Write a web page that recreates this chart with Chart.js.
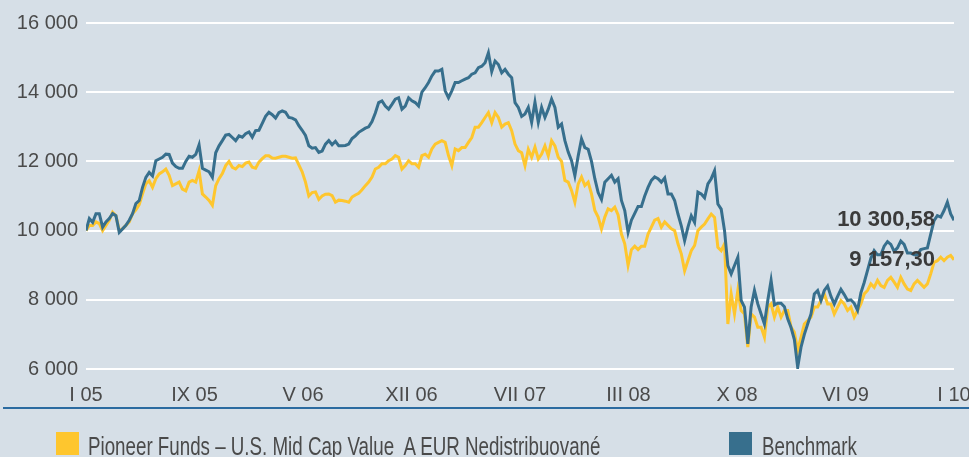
<!DOCTYPE html>
<html>
<head>
<meta charset="utf-8">
<script src="https://cdn.jsdelivr.net/npm/chart.js@4/dist/chart.umd.min.js"></script>
<style>
  html, body { margin: 0; padding: 0; background: #d6dfe7; }
  #wrap { position: relative; width: 969px; height: 457px; overflow: hidden; background: #d6dfe7;
          font-family: "Liberation Sans", Arial, sans-serif; color: #4a4a4a; }
  #chart { position: absolute; left: 0; top: 0; }
  #rule { position: absolute; left: 3px; top: 407px; width: 966px; height: 2px; background: #2b6ba0; }
  .key { position: absolute; top: 432px; width: 23px; height: 23px; }
  .lbl { position: absolute; top: 434px; font-size: 25px; line-height: 25px; white-space: pre;
         transform: scaleX(0.75); transform-origin: 0 0; }
</style>
</head>
<body>
<div id="wrap">
  <canvas id="chart" width="969" height="457"></canvas>
  <div id="rule"></div>
  <div class="key" id="key-fund" style="left:56px"></div>
  <div class="lbl" id="lbl-fund" style="left:88px"></div>
  <div class="key" id="key-bench" style="left:729px"></div>
  <div class="lbl" id="lbl-bench" style="left:762px"></div>
</div>
<script>
const fundName = 'Pioneer Funds – U.S. Mid Cap Value  A EUR Nedistribuované';
const benchName = 'Benchmark';
const fundColor = '#fec62e';
const benchColor = '#376f8d';

// x axis labels (month in roman numerals + year), evenly spaced over the weekly series
const xLabels = ['I 05', 'IX 05', 'V 06', 'XII 06', 'VII 07', 'III 08', 'X 08', 'VI 09', 'I 10'];
const yTicks = [6000, 8000, 10000, 12000, 14000, 16000];

// weekly values, I 05 .. I 10
const benchValues = [
  10000,10350,10240,10490,10490,10100,10250,10350,10490,10430,9950,10050,10150,10300,10490,10780,10870,11250,11540,11680,11580,12020,
  12070,12120,12210,12200,11950,11850,11800,11800,12000,12150,12120,12200,12480,11800,11750,11700,11540,12250,12450,12600,12760,12780,
  12690,12600,12740,12700,12800,12850,12700,12890,12900,13100,13300,13420,13350,13250,13410,13460,13420,13270,13250,13200,13030,12900,
  12750,12450,12380,12400,12260,12300,12500,12600,12480,12580,12450,12450,12460,12500,12660,12740,12840,12900,12960,13000,13150,13400,
  13700,13750,13600,13510,13650,13800,13840,13510,13600,13840,13750,13700,13600,14000,14130,14280,14470,14610,14610,14660,14040,13840,
  14040,14280,14280,14330,14380,14420,14520,14560,14710,14750,14850,15140,14600,14900,14800,14560,14660,14520,14420,13700,13560,13300,
  13370,13560,13130,13710,13130,13560,13270,13510,13800,13560,12990,13080,12600,12270,12020,11590,12160,12650,12400,12350,12000,11500,
  11100,10900,11400,11500,11600,11400,11500,10870,10580,9950,10300,10500,10700,10700,11000,11250,11450,11550,11500,11400,11520,11060,
  11060,10870,10480,10140,9710,10100,10430,10240,11110,11060,10950,11350,11500,11730,10770,10620,10000,8990,8750,8990,9230,7980,
  7790,6730,7790,8270,7880,7590,7300,7980,8560,7850,7900,7900,7800,7450,7200,6850,6050,6630,7000,7300,7590,
  8170,8270,7980,8270,8400,8100,7880,8100,8300,8150,7980,8000,7900,7700,8200,8500,8850,9200,9420,9300,9300,9550,
  9680,9600,9400,9500,9700,9600,9350,9350,9300,9300,9450,9480,9500,9900,10290,10430,10390,10580,10820,10480,10300.58
];
const fundValues = [
  10000,10150,10150,10250,10200,10000,10150,10300,10530,10430,10000,10050,10150,10250,10490,10600,10750,11060,11350,11440,11250,11500,
  11640,11700,11780,11600,11300,11350,11400,11200,11150,11400,11450,11400,11730,11060,10970,10870,10730,11300,11500,11650,11880,12000,
  11830,11780,11880,11850,11950,11980,11830,11800,11980,12080,12160,12160,12100,12090,12120,12150,12150,12120,12090,12100,11900,11700,
  11400,11000,11100,11120,10900,11000,11050,11060,11010,10820,10880,10870,10850,10820,10970,11030,11080,11180,11300,11400,11550,11780,
  11830,11930,11930,12020,12070,12170,12120,11780,11880,12020,11930,11930,11830,12170,12210,12120,12360,12500,12550,12600,12550,12170,
  11880,12360,12310,12400,12400,12550,12690,12990,12990,13120,13270,13410,13120,13410,13270,12990,13080,13120,12890,12500,12310,12250,
  11880,12350,12120,12410,12070,12210,12450,12160,12600,12450,12120,12000,11450,11400,11160,10820,11350,11550,11300,11400,11060,10580,
  10390,10050,10390,10630,10580,10680,10450,9900,9620,9000,9450,9550,9450,9550,9550,9900,10100,10300,10350,10100,10250,10150,
  10050,10000,9620,9330,8840,9130,9420,9570,10000,10100,10190,10340,10480,10380,9520,9420,9620,7300,8170,7590,8270,7690,
  7590,6630,7590,7500,7210,7210,6920,7790,7880,7500,7790,7500,7690,7690,7210,7060,6540,6920,7300,7400,7500,
  7790,7790,7980,8170,7880,7880,7590,7790,7980,7880,7690,7790,7500,7690,7880,8170,8270,8460,8360,8560,8410,8360,
  8560,8650,8510,8360,8650,8460,8310,8270,8460,8560,8460,8360,8460,8750,9080,9130,9230,9130,9230,9280,9157.30
];

const lastIndex = benchValues.length - 1;
const fontFamily = '"Liberation Sans", Arial, sans-serif';

function fmt(n, dec) {
  const parts = n.toFixed(dec).split('.');
  const whole = parts[0].replace(/\B(?=(\d{3})+(?!\d))/g, ' ');
  return parts.length > 1 ? whole + ',' + parts[1] : whole;
}

const toPoints = arr => arr.map((v, i) => ({ x: i, y: v }));

document.getElementById('key-fund').style.background = fundColor;
document.getElementById('key-bench').style.background = benchColor;
document.getElementById('lbl-fund').textContent = fundName;
document.getElementById('lbl-bench').textContent = benchName;

// final values written next to the end of each line
const endLabels = {
  id: 'endLabels',
  afterDatasetsDraw(chart) {
    const ctx = chart.ctx;
    const xs = chart.scales.x, ys = chart.scales.y;
    ctx.save();
    ctx.font = 'bold 22px ' + fontFamily;
    ctx.fillStyle = '#3a3a3a';
    ctx.textAlign = 'right';
    ctx.textBaseline = 'middle';
    [benchValues, fundValues].forEach(arr => {
      const v = arr[arr.length - 1];
      ctx.fillText(fmt(v, 2), xs.getPixelForValue(arr.length - 1) - 19, ys.getPixelForValue(v));
    });
    ctx.restore();
  }
};

new Chart(document.getElementById('chart'), {
  type: 'line',
  data: {
    datasets: [{
      label: fundName,
      data: toPoints(fundValues),
      borderColor: fundColor,
      borderWidth: 3,
      pointRadius: 0,
      fill: false,
      order: 2
    }, {
      label: benchName,
      data: toPoints(benchValues),
      borderColor: benchColor,
      borderWidth: 3,
      pointRadius: 0,
      fill: false,
      order: 1
    }]
  },
  options: {
    responsive: false,
    animation: false,
    events: [],
    layout: { padding: { top: 23, right: 15, bottom: 48, left: 0 } },
    plugins: { legend: { display: false }, tooltip: { enabled: false } },
    scales: {
      x: {
        type: 'linear',
        min: 0,
        max: lastIndex,
        grid: { display: false, drawTicks: false },
        border: { display: false },
        afterBuildTicks: scale => {
          scale.ticks = xLabels.map((l, i) => ({ value: i * lastIndex / (xLabels.length - 1) }));
        },
        afterFit: scale => {
          scale.height = 40;
          scale.paddingLeft = 0;
          scale.paddingRight = 0;
        },
        ticks: {
          padding: 14,
          maxRotation: 0,
          autoSkip: false,
          color: '#4a4a4a',
          font: { family: fontFamily, size: 20 },
          callback: (v, i) => xLabels[i]
        }
      },
      y: {
        min: 6000,
        max: 16000,
        grid: { color: '#ffffff', lineWidth: 2, drawTicks: false },
        border: { display: false },
        afterBuildTicks: scale => {
          scale.ticks = yTicks.map(v => ({ value: v }));
        },
        afterFit: scale => { scale.width = 86; },
        ticks: {
          padding: 8,
          color: '#4a4a4a',
          font: { family: fontFamily, size: 20 },
          callback: v => fmt(v, 0)
        }
      }
    }
  },
  plugins: [endLabels]
});
</script>
</body>
</html>
